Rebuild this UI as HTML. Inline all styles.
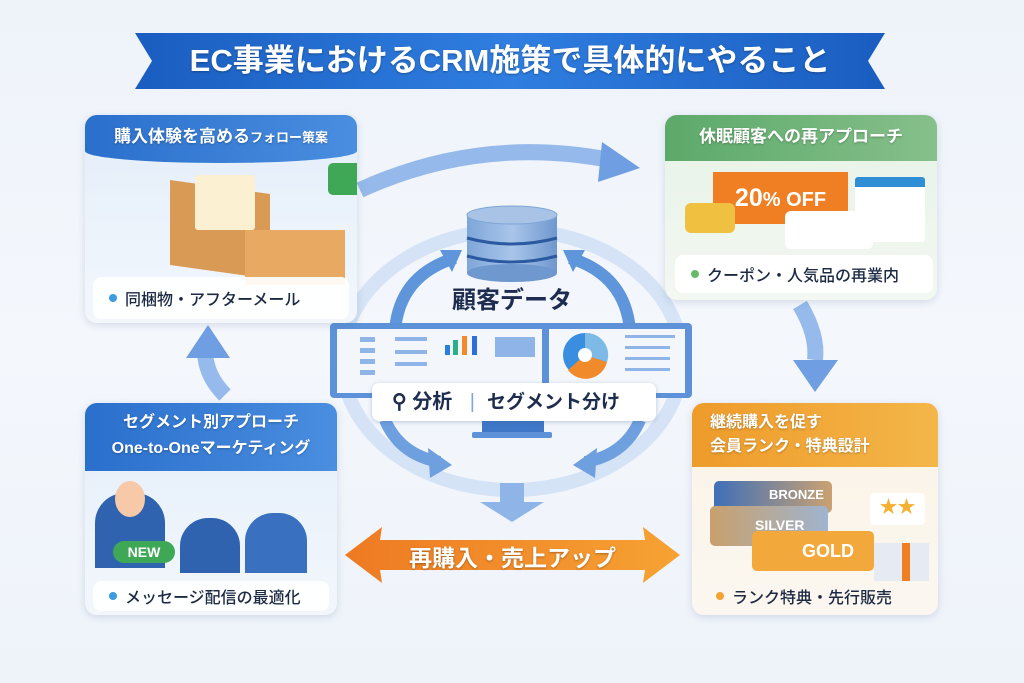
<!DOCTYPE html>
<html><head><meta charset="utf-8"><style>
*{margin:0;padding:0;box-sizing:border-box}
body{width:1024px;height:683px;overflow:hidden;background:linear-gradient(180deg,#eef3fa 0%,#f4f7fc 50%,#eef3fa 100%);font-family:"Liberation Sans","Noto Sans CJK JP",sans-serif;position:relative}
.abs{position:absolute}
.card{position:absolute;border-radius:12px;overflow:hidden;box-shadow:0 2px 8px rgba(60,90,140,.18);background:linear-gradient(180deg,#e3eefa,#f3f7fc)}
.hdr{position:absolute;left:0;top:0;right:0;color:#fff;font-weight:bold;text-align:center;text-shadow:0 1px 2px rgba(0,0,0,.25)}
.pill{position:absolute;background:rgba(255,255,255,.92);border-radius:8px;font-size:16px;color:#1e2a44;padding-left:16px;display:flex;align-items:center;font-weight:500}
.dot{width:8px;height:8px;border-radius:50%;margin-right:8px;display:inline-block}
</style></head><body>
<svg class="abs" style="left:0;top:0" width="1024" height="683">
<defs>
<linearGradient id="bl" x1="0" x2="1"><stop offset="0" stop-color="#1a5dc0"/><stop offset=".5" stop-color="#2f7ee0"/><stop offset="1" stop-color="#1a5dc0"/></linearGradient>
<linearGradient id="or" x1="0" x2="1"><stop offset="0" stop-color="#ee7a22"/><stop offset="1" stop-color="#f6a233"/></linearGradient>
<linearGradient id="db" x1="0" x2="1"><stop offset="0" stop-color="#7ea6d8"/><stop offset=".5" stop-color="#a9c5ea"/><stop offset="1" stop-color="#6f98cf"/></linearGradient>
</defs>
<polygon points="135,33 885,33 868,61 885,89 135,89 152,61" fill="url(#bl)"/>
<ellipse cx="512" cy="360" rx="170" ry="130" fill="none" stroke="#c9dcf3" stroke-width="14" opacity=".7"/>
<path d="M395,330 Q400,275 455,258" fill="none" stroke="#5e95db" stroke-width="12"/>
<polygon points="462,250 440,250 452,272" fill="#5e95db"/>
<path d="M630,330 Q625,275 570,258" fill="none" stroke="#5e95db" stroke-width="12"/>
<polygon points="563,250 585,250 573,272" fill="#5e95db"/>
<path d="M385,420 Q400,455 440,462" fill="none" stroke="#6ea0e0" stroke-width="12"/>
<polygon points="452,465 428,448 430,478" fill="#6ea0e0"/>
<path d="M640,420 Q625,455 585,462" fill="none" stroke="#6ea0e0" stroke-width="12"/>
<polygon points="573,465 597,448 595,478" fill="#6ea0e0"/>
<rect x="500" y="483" width="24" height="20" fill="#8fb5e8"/>
<polygon points="480,502 544,502 512,522" fill="#8fb5e8"/>
<path d="M360,190 Q480,135 610,160" fill="none" stroke="#7eaae6" stroke-width="16" opacity=".8"/>
<polygon points="640,168 602,142 598,182" fill="#6f9fe2"/>
<path d="M800,305 Q818,335 815,360" fill="none" stroke="#7eaae6" stroke-width="16" opacity=".8"/>
<polygon points="815,392 793,360 838,360" fill="#6f9fe2"/>
<path d="M225,395 Q205,375 205,350" fill="none" stroke="#7eaae6" stroke-width="16" opacity=".8"/>
<polygon points="208,325 186,358 230,358" fill="#6f9fe2"/>
<polygon points="345,555 382,527 380,540 645,540 643,527 680,555 643,583 645,570 380,570 382,583" fill="url(#or)"/>
<rect x="467" y="215" width="90" height="58" fill="url(#db)"/>
<ellipse cx="512" cy="273" rx="45" ry="9" fill="#6f98cf"/>
<ellipse cx="512" cy="215" rx="45" ry="9" fill="#a8c3e6" stroke="#7ea6d8"/>
<path d="M467,238 Q512,250 557,238" stroke="#2b5aa0" stroke-width="3" fill="none"/>
<path d="M467,256 Q512,268 557,256" stroke="#2b5aa0" stroke-width="3" fill="none"/>
<rect x="330" y="323" width="362" height="75" rx="4" fill="#5d92d8"/>
<rect x="337" y="329" width="205" height="64" fill="#f3f7fc"/>
<rect x="549" y="329" width="136" height="64" fill="#f3f7fc"/>
<g fill="#8fb5e8"><rect x="360" y="337" width="15" height="5"/><rect x="360" y="348" width="15" height="5"/><rect x="360" y="359" width="15" height="5"/><rect x="360" y="370" width="15" height="5"/>
<rect x="395" y="337" width="32" height="4"/><rect x="395" y="350" width="32" height="4"/><rect x="395" y="362" width="32" height="4"/><rect x="495" y="337" width="40" height="20"/>
<rect x="625" y="335" width="50" height="3"/><rect x="625" y="346" width="45" height="3"/><rect x="625" y="357" width="45" height="3"/><rect x="625" y="368" width="45" height="3"/></g>
<rect x="445" y="345" width="5" height="10" fill="#2b7fdc"/><rect x="453" y="340" width="5" height="15" fill="#2bb08a"/><rect x="462" y="336" width="5" height="19" fill="#f28a2a"/><rect x="472" y="336" width="5" height="19" fill="#2b6fdc"/>
<circle cx="585" cy="355" r="22" fill="#3a8ee0"/><path d="M585,355 L607,362 A22,22 0 0 1 568,370 Z" fill="#f08a2a"/><path d="M585,355 L585,333 A22,22 0 0 1 607,362 Z" fill="#7dbbe6"/><circle cx="585" cy="355" r="7" fill="#fff"/>
<rect x="482" y="418" width="62" height="14" fill="#3f78c8"/><rect x="472" y="432" width="80" height="6" rx="2" fill="#5d92d8"/>
</svg>

<div class="abs" style="left:135px;top:39px;width:750px;text-align:center;color:#fff;font-size:31px;font-weight:bold;line-height:44px;text-shadow:0 1px 2px rgba(0,0,0,.3)">EC事業におけるCRM施策で具体的にやること</div>

<div class="abs" style="left:372px;top:383px;width:284px;height:38px;background:#fff;border-radius:7px;box-shadow:0 1px 5px rgba(60,90,140,.3);font-size:20px;font-weight:bold;color:#1e2d4f;line-height:38px;padding-left:20px">⚲ 分析 <span style="color:#7ea6d8;font-weight:normal;margin:0 12px">|</span><span style="font-size:19px">セグメント分け</span></div>
<div class="abs" style="left:412px;top:280px;width:200px;text-align:center;font-size:24px;font-weight:bold;color:#1e2d4f">顧客データ</div>
<div class="abs" style="left:345px;top:539px;width:335px;text-align:center;font-size:23px;font-weight:bold;color:#fff;text-shadow:0 1px 2px rgba(0,0,0,.3)">再購入・売上アップ</div>

<div class="card" style="left:85px;top:115px;width:272px;height:208px">
<div class="hdr" style="height:48px;background:linear-gradient(90deg,#2a6fcc,#4a8ee0);font-size:17px;line-height:44px;border-radius:0 0 50% 50%/0 0 12px 12px">購入体験を高める<span style="font-size:13px">フォロー策案</span></div>
<div class="abs" style="left:85px;top:72px;width:100px;height:85px;background:#d99a55;transform:skewY(8deg)"></div>
<div class="abs" style="left:110px;top:60px;width:60px;height:55px;background:#fbf0d2;border-radius:3px"></div>
<div class="abs" style="left:160px;top:115px;width:100px;height:55px;background:#e8aa62"></div>
<div class="abs" style="left:243px;top:48px;width:45px;height:32px;background:#3fa857;border-radius:5px"></div>
<div class="pill" style="left:8px;top:162px;width:256px;height:42px"><span class="dot" style="background:#3d9be0"></span>同梱物・アフターメール</div>
</div>
<div class="card" style="left:665px;top:115px;width:272px;height:185px;background:linear-gradient(180deg,#e6f2e6,#f3f8f2)">
<div class="hdr" style="height:46px;background:linear-gradient(90deg,#5ca96a,#86c08a);font-size:17px;line-height:44px">休眠顧客への再アプローチ</div>
<div class="abs" style="left:48px;top:57px;width:135px;height:52px;background:#f07e22;color:#fff;font-weight:bold;font-size:25px;line-height:52px;text-align:center">20<span style="font-size:20px">% OFF</span></div>
<div class="abs" style="left:190px;top:62px;width:70px;height:65px;background:#fff;border-top:10px solid #2f8fd6;border-radius:3px"></div>
<div class="abs" style="left:20px;top:88px;width:50px;height:30px;background:#f0c040;border-radius:6px"></div>
<div class="abs" style="left:120px;top:96px;width:88px;height:38px;background:#fff;border-radius:6px"></div>
<div class="pill" style="left:10px;top:140px;width:258px;height:38px"><span class="dot" style="background:#66bb6a"></span>クーポン・人気品の再業内</div>
</div>
<div class="card" style="left:85px;top:403px;width:252px;height:212px">
<div class="hdr" style="height:68px;background:linear-gradient(90deg,#2a6fcc,#4a8ee0);font-size:16px;line-height:26px;padding-top:7px">セグメント別アプローチ<br>One-to-Oneマーケティング</div>
<div class="abs" style="left:10px;top:90px;width:70px;height:75px;background:#2f63b0;border-radius:30px 30px 0 0"></div>
<div class="abs" style="left:30px;top:78px;width:30px;height:36px;background:#f8c9a8;border-radius:50%"></div>
<div class="abs" style="left:95px;top:115px;width:60px;height:55px;background:#2f63b0;border-radius:28px 28px 0 0"></div>
<div class="abs" style="left:160px;top:110px;width:62px;height:60px;background:#3a70c0;border-radius:28px 28px 0 0"></div>
<div class="abs" style="left:28px;top:138px;width:62px;height:22px;background:#3fa857;color:#fff;font-weight:bold;font-size:14px;line-height:22px;text-align:center;border-radius:11px">NEW</div>
<div class="pill" style="left:8px;top:178px;width:236px;height:30px"><span class="dot" style="background:#3d9be0"></span>メッセージ配信の最適化</div>
</div>
<div class="card" style="left:692px;top:403px;width:246px;height:212px;background:linear-gradient(180deg,#fbf3e6,#fbf7f0)">
<div class="hdr" style="height:64px;background:linear-gradient(90deg,#ee9b2a,#f4b649);font-size:16px;line-height:24px;padding-top:8px;text-align:left;padding-left:18px">継続購入を促す<br>会員ランク・特典設計</div>
<div class="abs" style="left:22px;top:78px;width:118px;height:32px;background:linear-gradient(90deg,#3f6fb8,#caa271);border-radius:5px;color:#fff;font-weight:bold;font-size:13px;line-height:28px;padding-left:55px">BRONZE</div>
<div class="abs" style="left:18px;top:103px;width:118px;height:40px;background:linear-gradient(90deg,#c9a06c,#9fb4d0);border-radius:5px;color:#fff;font-weight:bold;font-size:14px;line-height:38px;padding-left:45px">SILVER</div>
<div class="abs" style="left:60px;top:128px;width:122px;height:40px;background:#f2a83a;border-radius:5px;color:#fff;font-weight:bold;font-size:18px;line-height:40px;padding-left:50px">GOLD</div>
<div class="abs" style="left:182px;top:140px;width:55px;height:38px;background:#e6eaf2;border-left:8px solid transparent;box-shadow:inset 20px 0 0 #e6eaf2,inset 28px 0 0 #f07e22"></div>
<div class="abs" style="left:178px;top:90px;width:55px;height:32px;background:#fff;border-radius:4px;color:#f4b030;font-size:18px;text-align:center">★★</div>
<div class="pill" style="left:8px;top:178px;width:230px;height:30px;background:transparent"><span class="dot" style="background:#f4a233"></span>ランク特典・先行販売</div>
</div>
</body></html>
